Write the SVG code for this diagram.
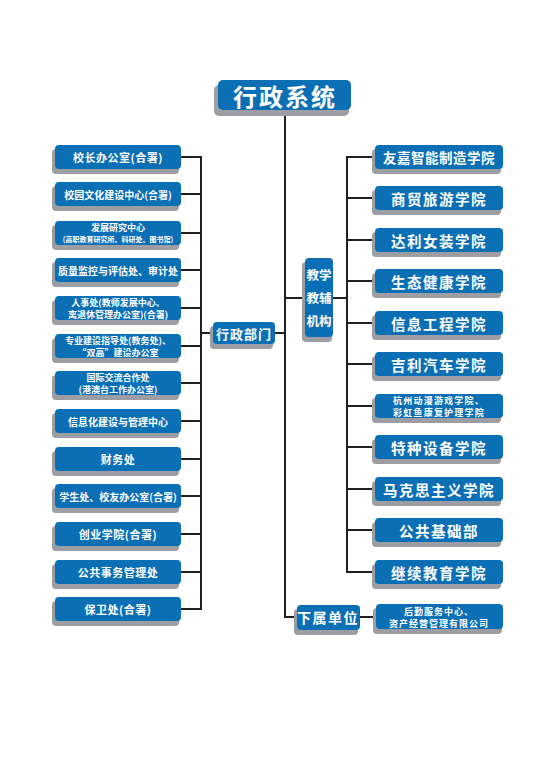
<svg xmlns="http://www.w3.org/2000/svg" width="543" height="768" viewBox="0 0 543 768">
<style>
.sh{fill:#9c9ea3}
.bx{fill:#0b6fb6}
.t{font-family:"Noto Sans CJK SC","Noto Sans",sans-serif;font-weight:bold;fill:#ffffff;text-anchor:middle;dominant-baseline:central}
.s{font-size:11px;letter-spacing:0.5px}
.r{font-size:14.5px;letter-spacing:1.5px}
.d{font-size:9px}
.ln{stroke:#231f20;stroke-width:2;fill:none}
</style>
<rect x="0" y="0" width="543" height="768" fill="#ffffff"/>
<g id="connectors">
<path class="ln" d="M285 110 V617 H297"/>
<path class="ln" d="M181 157 H201 M181 194 H201 M181 233 H201 M181 270 H201 M181 308 H201 M181 346 H201 M181 383 H201 M181 421 H201 M181 459 H201 M181 496 H201 M181 534 H201 M181 572 H201 M181 609 H201 M201 156 V610 M201 333 H213 M275 333 H285"/>
<path class="ln" d="M285 298 H305 M333 298 H347 M347 156 V573 M347 157 H375 M347 198 H375 M347 240 H375 M347 281 H375 M347 323 H375 M347 364 H375 M347 406 H375 M347 447 H375 M347 489 H375 M347 530 H375 M347 572 H375"/>
<path class="ln" d="M360 617 H376"/>
</g>
<g id="title"><rect class="sh" x="214" y="85" width="135" height="31" rx="5"/><rect class="bx" x="218" y="80" width="133" height="30" rx="5"/><text class="t" x="285" y="95" font-size="24" letter-spacing="2">行政系统</text></g>

<g id="l1"><rect class="sh" x="52" y="149" width="127" height="25" rx="4"/><rect class="bx" x="55" y="145" width="126" height="24" rx="4"/><text class="t s" x="118" y="157">校长办公室(合署)</text></g>
<g id="l2"><rect class="sh" x="52" y="186" width="127" height="25" rx="4"/><rect class="bx" x="55" y="182" width="126" height="24" rx="4"/><text class="t" x="118" y="194" font-size="10">校园文化建设中心(合署)</text></g>
<g id="l3"><rect class="sh" x="52" y="225" width="127" height="25" rx="4"/><rect class="bx" x="55" y="221" width="126" height="24" rx="4"/><text class="t" x="118" y="227" font-size="9"><tspan x="118" y="227">发展研究中心</tspan><tspan x="118" y="239" font-size="7">(高职教育研究所、科研处、图书馆)</tspan></text></g>
<g id="l4"><rect class="sh" x="52" y="262" width="127" height="25" rx="4"/><rect class="bx" x="55" y="258" width="126" height="24" rx="4"/><text class="t" x="118" y="270" font-size="10">质量监控与评估处、审计处</text></g>
<g id="l5"><rect class="sh" x="52" y="300" width="127" height="25" rx="4"/><rect class="bx" x="55" y="296" width="126" height="24" rx="4"/><text class="t d" x="118" y="302"><tspan x="118" y="302">人事处(教师发展中心、</tspan><tspan x="118" y="314">离退休管理办公室)(合署)</tspan></text></g>
<g id="l6"><rect class="sh" x="52" y="338" width="127" height="25" rx="4"/><rect class="bx" x="55" y="334" width="126" height="24" rx="4"/><text class="t d" x="118" y="340"><tspan x="118" y="340">专业建设指导处(教务处)、</tspan><tspan x="118" y="352">“双高”建设办公室</tspan></text></g>
<g id="l7"><rect class="sh" x="52" y="375" width="127" height="25" rx="4"/><rect class="bx" x="55" y="371" width="126" height="24" rx="4"/><text class="t d" x="118" y="377"><tspan x="118" y="377">国际交流合作处</tspan><tspan x="118" y="389">(港澳台工作办公室)</tspan></text></g>
<g id="l8"><rect class="sh" x="52" y="413" width="127" height="25" rx="4"/><rect class="bx" x="55" y="409" width="126" height="24" rx="4"/><text class="t" x="118" y="421" font-size="10">信息化建设与管理中心</text></g>
<g id="l9"><rect class="sh" x="52" y="451" width="127" height="25" rx="4"/><rect class="bx" x="55" y="447" width="126" height="24" rx="4"/><text class="t s" x="118" y="459">财务处</text></g>
<g id="l10"><rect class="sh" x="52" y="488" width="127" height="25" rx="4"/><rect class="bx" x="55" y="484" width="126" height="24" rx="4"/><text class="t" x="118" y="496" font-size="10">学生处、校友办公室(合署)</text></g>
<g id="l11"><rect class="sh" x="52" y="526" width="127" height="25" rx="4"/><rect class="bx" x="55" y="522" width="126" height="24" rx="4"/><text class="t s" x="118" y="534">创业学院(合署)</text></g>
<g id="l12"><rect class="sh" x="52" y="564" width="127" height="25" rx="4"/><rect class="bx" x="55" y="560" width="126" height="24" rx="4"/><text class="t s" x="118" y="572">公共事务管理处</text></g>
<g id="l13"><rect class="sh" x="52" y="601" width="127" height="25" rx="4"/><rect class="bx" x="55" y="597" width="126" height="24" rx="4"/><text class="t s" x="118" y="609">保卫处(合署)</text></g>

<g id="xzbm"><rect class="sh" x="210" y="326" width="63" height="23" rx="4"/><rect class="bx" x="213" y="322" width="62" height="22" rx="4"/><text class="t" x="244" y="333" font-size="13" letter-spacing="1">行政部门</text></g>
<g id="jxjf"><rect class="sh" x="302" y="262" width="30" height="80" rx="4"/><rect class="bx" x="305" y="258" width="28" height="79" rx="4"/><text class="t" x="319" y="274" font-size="12.5"><tspan x="319" y="274">教学</tspan><tspan x="319" y="297">教辅</tspan><tspan x="319" y="320">机构</tspan></text></g>

<g id="r1"><rect class="sh" x="372" y="149" width="129" height="25" rx="4"/><rect class="bx" x="375" y="145" width="128" height="24" rx="4"/><text class="t" x="439" y="157" font-size="13.5" letter-spacing="0.5">友嘉智能制造学院</text></g>
<g id="r2"><rect class="sh" x="372" y="190" width="129" height="25" rx="4"/><rect class="bx" x="375" y="186" width="128" height="24" rx="4"/><text class="t r" x="439" y="198">商贸旅游学院</text></g>
<g id="r3"><rect class="sh" x="372" y="232" width="129" height="25" rx="4"/><rect class="bx" x="375" y="228" width="128" height="24" rx="4"/><text class="t r" x="439" y="240">达利女装学院</text></g>
<g id="r4"><rect class="sh" x="372" y="273" width="129" height="25" rx="4"/><rect class="bx" x="375" y="269" width="128" height="24" rx="4"/><text class="t r" x="439" y="281">生态健康学院</text></g>
<g id="r5"><rect class="sh" x="372" y="315" width="129" height="25" rx="4"/><rect class="bx" x="375" y="311" width="128" height="24" rx="4"/><text class="t r" x="439" y="323">信息工程学院</text></g>
<g id="r6"><rect class="sh" x="372" y="356" width="129" height="25" rx="4"/><rect class="bx" x="375" y="352" width="128" height="24" rx="4"/><text class="t r" x="439" y="364">吉利汽车学院</text></g>
<g id="r7"><rect class="sh" x="372" y="398" width="129" height="25" rx="4"/><rect class="bx" x="375" y="394" width="128" height="24" rx="4"/><text class="t" x="439" y="400" font-size="9" letter-spacing="1.2"><tspan x="439" y="400">杭州动漫游戏学院、</tspan><tspan x="439" y="412">彩虹鱼康复护理学院</tspan></text></g>
<g id="r8"><rect class="sh" x="372" y="439" width="129" height="25" rx="4"/><rect class="bx" x="375" y="435" width="128" height="24" rx="4"/><text class="t r" x="439" y="447">特种设备学院</text></g>
<g id="r9"><rect class="sh" x="372" y="481" width="129" height="25" rx="4"/><rect class="bx" x="375" y="477" width="128" height="24" rx="4"/><text class="t r" x="439" y="489">马克思主义学院</text></g>
<g id="r10"><rect class="sh" x="372" y="522" width="129" height="25" rx="4"/><rect class="bx" x="375" y="518" width="128" height="24" rx="4"/><text class="t r" x="439" y="530">公共基础部</text></g>
<g id="r11"><rect class="sh" x="372" y="564" width="129" height="25" rx="4"/><rect class="bx" x="375" y="560" width="128" height="24" rx="4"/><text class="t r" x="439" y="572">继续教育学院</text></g>

<g id="xsdw"><rect class="sh" x="294" y="609" width="64" height="26" rx="4"/><rect class="bx" x="297" y="605" width="63" height="25" rx="4"/><text class="t" x="328" y="617" font-size="14" letter-spacing="1.5">下属单位</text></g>
<g id="hqfw"><rect class="sh" x="373" y="608" width="129" height="26" rx="4"/><rect class="bx" x="376" y="604" width="127" height="25" rx="4"/><text class="t" x="439" y="610.5" font-size="9" letter-spacing="1"><tspan x="439" y="610.5">后勤服务中心、</tspan><tspan x="439" y="622.5">资产经营管理有限公司</tspan></text></g>
</svg>
